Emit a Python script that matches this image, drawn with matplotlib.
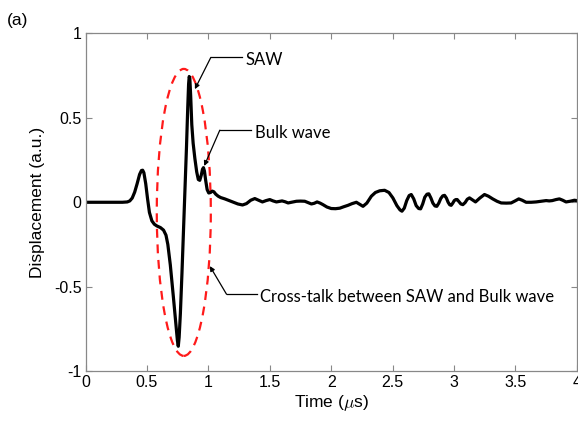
import numpy as np
import matplotlib.pyplot as plt
from matplotlib.patches import Ellipse

# Displacement trace (time in us, displacement in a.u.)
time_us = [0.00, 0.30, 0.34, 0.36, 0.38, 0.40, 0.42, 0.44, 0.455, 0.465, 0.475,
           0.49, 0.505, 0.52, 0.54, 0.56, 0.58, 0.61, 0.635, 0.655, 0.67,
           0.69, 0.715, 0.735, 0.748, 0.755, 0.762, 0.772, 0.785, 0.797, 0.81,
           0.822, 0.832, 0.839, 0.844, 0.849, 0.856, 0.865, 0.876, 0.89, 0.905,
           0.918, 0.93, 0.942, 0.952, 0.96, 0.968, 0.978, 0.99, 1.003, 1.018,
           1.032, 1.045, 1.06, 1.08, 1.10, 1.134, 1.17, 1.20, 1.24, 1.278,
           1.31, 1.345, 1.378, 1.41, 1.44, 1.47, 1.50, 1.527, 1.554, 1.577,
           1.60, 1.625, 1.649, 1.683, 1.717, 1.75, 1.785, 1.812, 1.839, 1.862,
           1.885, 1.91, 1.933, 1.965, 2.00, 2.035, 2.07, 2.10, 2.137, 2.17,
           2.205, 2.232, 2.259, 2.29, 2.327, 2.36, 2.395, 2.435, 2.47, 2.502,
           2.535, 2.56, 2.576, 2.595, 2.615, 2.635, 2.652, 2.672, 2.692, 2.712,
           2.728, 2.745, 2.762, 2.78, 2.795, 2.812, 2.828, 2.845, 2.86, 2.876,
           2.892, 2.908, 2.923, 2.938, 2.952, 2.965, 2.977, 2.99, 3.002, 3.014,
           3.026, 3.04, 3.056, 3.072, 3.09, 3.108, 3.126, 3.15, 3.175, 3.21,
           3.248, 3.28, 3.315, 3.35, 3.384, 3.425, 3.465, 3.497, 3.527, 3.555,
           3.587, 3.628, 3.668, 3.71, 3.75, 3.775, 3.80, 3.83, 3.858, 3.885,
           3.912, 3.945, 3.98, 4.00]
displacement = [0.0, 0.0, 0.002, 0.008, 0.025, 0.06, 0.11, 0.165, 0.188, 0.19, 0.175,
                0.11, 0.02, -0.06, -0.11, -0.13, -0.14, -0.15, -0.165, -0.195, -0.25,
                -0.37, -0.56, -0.72, -0.82, -0.853, -0.80, -0.66, -0.42, -0.18, 0.08,
                0.33, 0.56, 0.70, 0.745, 0.735, 0.63, 0.46, 0.35, 0.26, 0.18,
                0.135, 0.13, 0.16, 0.195, 0.205, 0.185, 0.13, 0.075, 0.055, 0.058,
                0.066, 0.062, 0.048, 0.036, 0.028, 0.02, 0.01, 0.002, -0.01, -0.016,
                -0.008, 0.012, 0.022, 0.012, 0.002, 0.01, 0.016, 0.008, 0.002, 0.005,
                0.008, 0.003, -0.004, 0.001, 0.006, 0.007, 0.006, -0.002, -0.01, -0.006,
                0.002, -0.005, -0.014, -0.028, -0.037, -0.038, -0.035, -0.027, -0.018, -0.008,
                0.0, -0.012, -0.024, -0.005, 0.036, 0.058, 0.068, 0.071, 0.058, 0.026,
                -0.02, -0.045, -0.053, -0.035, 0.01, 0.04, 0.046, 0.02, -0.02, -0.037,
                -0.039, -0.01, 0.03, 0.048, 0.05, 0.025, -0.005, -0.022, -0.024, -0.005,
                0.022, 0.038, 0.041, 0.025, 0.0, -0.015, -0.018, -0.005, 0.01, 0.016,
                0.016, 0.004, -0.01, -0.014, -0.002, 0.018, 0.026, 0.014, 0.002, 0.025,
                0.046, 0.036, 0.02, 0.006, -0.004, -0.005, -0.004, 0.008, 0.02, 0.012,
                0.0, 0.0, 0.002, 0.006, 0.01, 0.008, 0.01, 0.016, 0.02, 0.012,
                0.002, 0.006, 0.012, 0.01]

xticks = [0, 0.5, 1, 1.5, 2, 2.5, 3, 3.5, 4]
yticks = [-1, -0.5, 0, 0.5, 1]

plt.rcParams['font.family'] = ['Liberation Sans', 'DejaVu Sans']
plt.rcParams['mathtext.fontset'] = 'cm'

fig = plt.figure(figsize=(5.78, 4.29), dpi=100)
ax = fig.add_axes([0.148, 0.135, 0.850, 0.787])

ax.plot(time_us, displacement, color='black', lw=2.3, solid_joinstyle='round')

# Red dashed ellipse around the cross-talk region
ax.add_patch(Ellipse((0.80, -0.06), 0.44, 1.70, fill=False, edgecolor='#ff1a1a',
                     lw=1.6, ls=(0, (4, 3))))

ax.set_xlim(0, 4)
ax.set_ylim(-1, 1)
ax.set_xticks(xticks)
ax.set_xticklabels(['0', '0.5', '1', '1.5', '2', '2.5', '3', '3.5', '4'])
ax.set_yticks(yticks)
ax.set_yticklabels(['-1', '-0.5', '0', '0.5', '1'])
ax.tick_params(direction='in', length=4, width=0.8, color='#888888',
               labelsize=11.5, top=True, right=True, pad=3)
for s in ax.spines.values():
    s.set_color('#888888')
    s.set_linewidth(0.9)

ax.set_xlabel(r'Time ($\mu$s)', fontsize=12.5, labelpad=2)
ax.set_ylabel('Displacement (a.u.)', fontsize=12.5, labelpad=6)

# Callouts: horizontal leader + arrow + label
note_font = ['Lato', 'DejaVu Sans']
callouts = [
    ('SAW', (0.890, 0.670), (1.020, 0.858), 1.270),
    ('Bulk wave', (0.966, 0.215), (1.093, 0.427), 1.351),
    ('Cross-talk between SAW and Bulk wave', (1.012, -0.378), (1.148, -0.545), 1.392),
]
for label, target, elbow, x_end in callouts:
    ax.plot([elbow[0], x_end], [elbow[1], elbow[1]], color='black', lw=0.9)
    ax.annotate('', xy=target, xytext=elbow,
                arrowprops=dict(arrowstyle='-|>', color='black', lw=0.9,
                                mutation_scale=7, shrinkA=0, shrinkB=0))
    ax.text(x_end + 0.03, elbow[1] - 0.015, label, fontsize=12, family=note_font,
            va='center', ha='left')

fig.text(0.012, 0.953, '(a)', fontsize=12.5, va='center', ha='left')

plt.savefig('out.png', dpi=100)
plt.close()
